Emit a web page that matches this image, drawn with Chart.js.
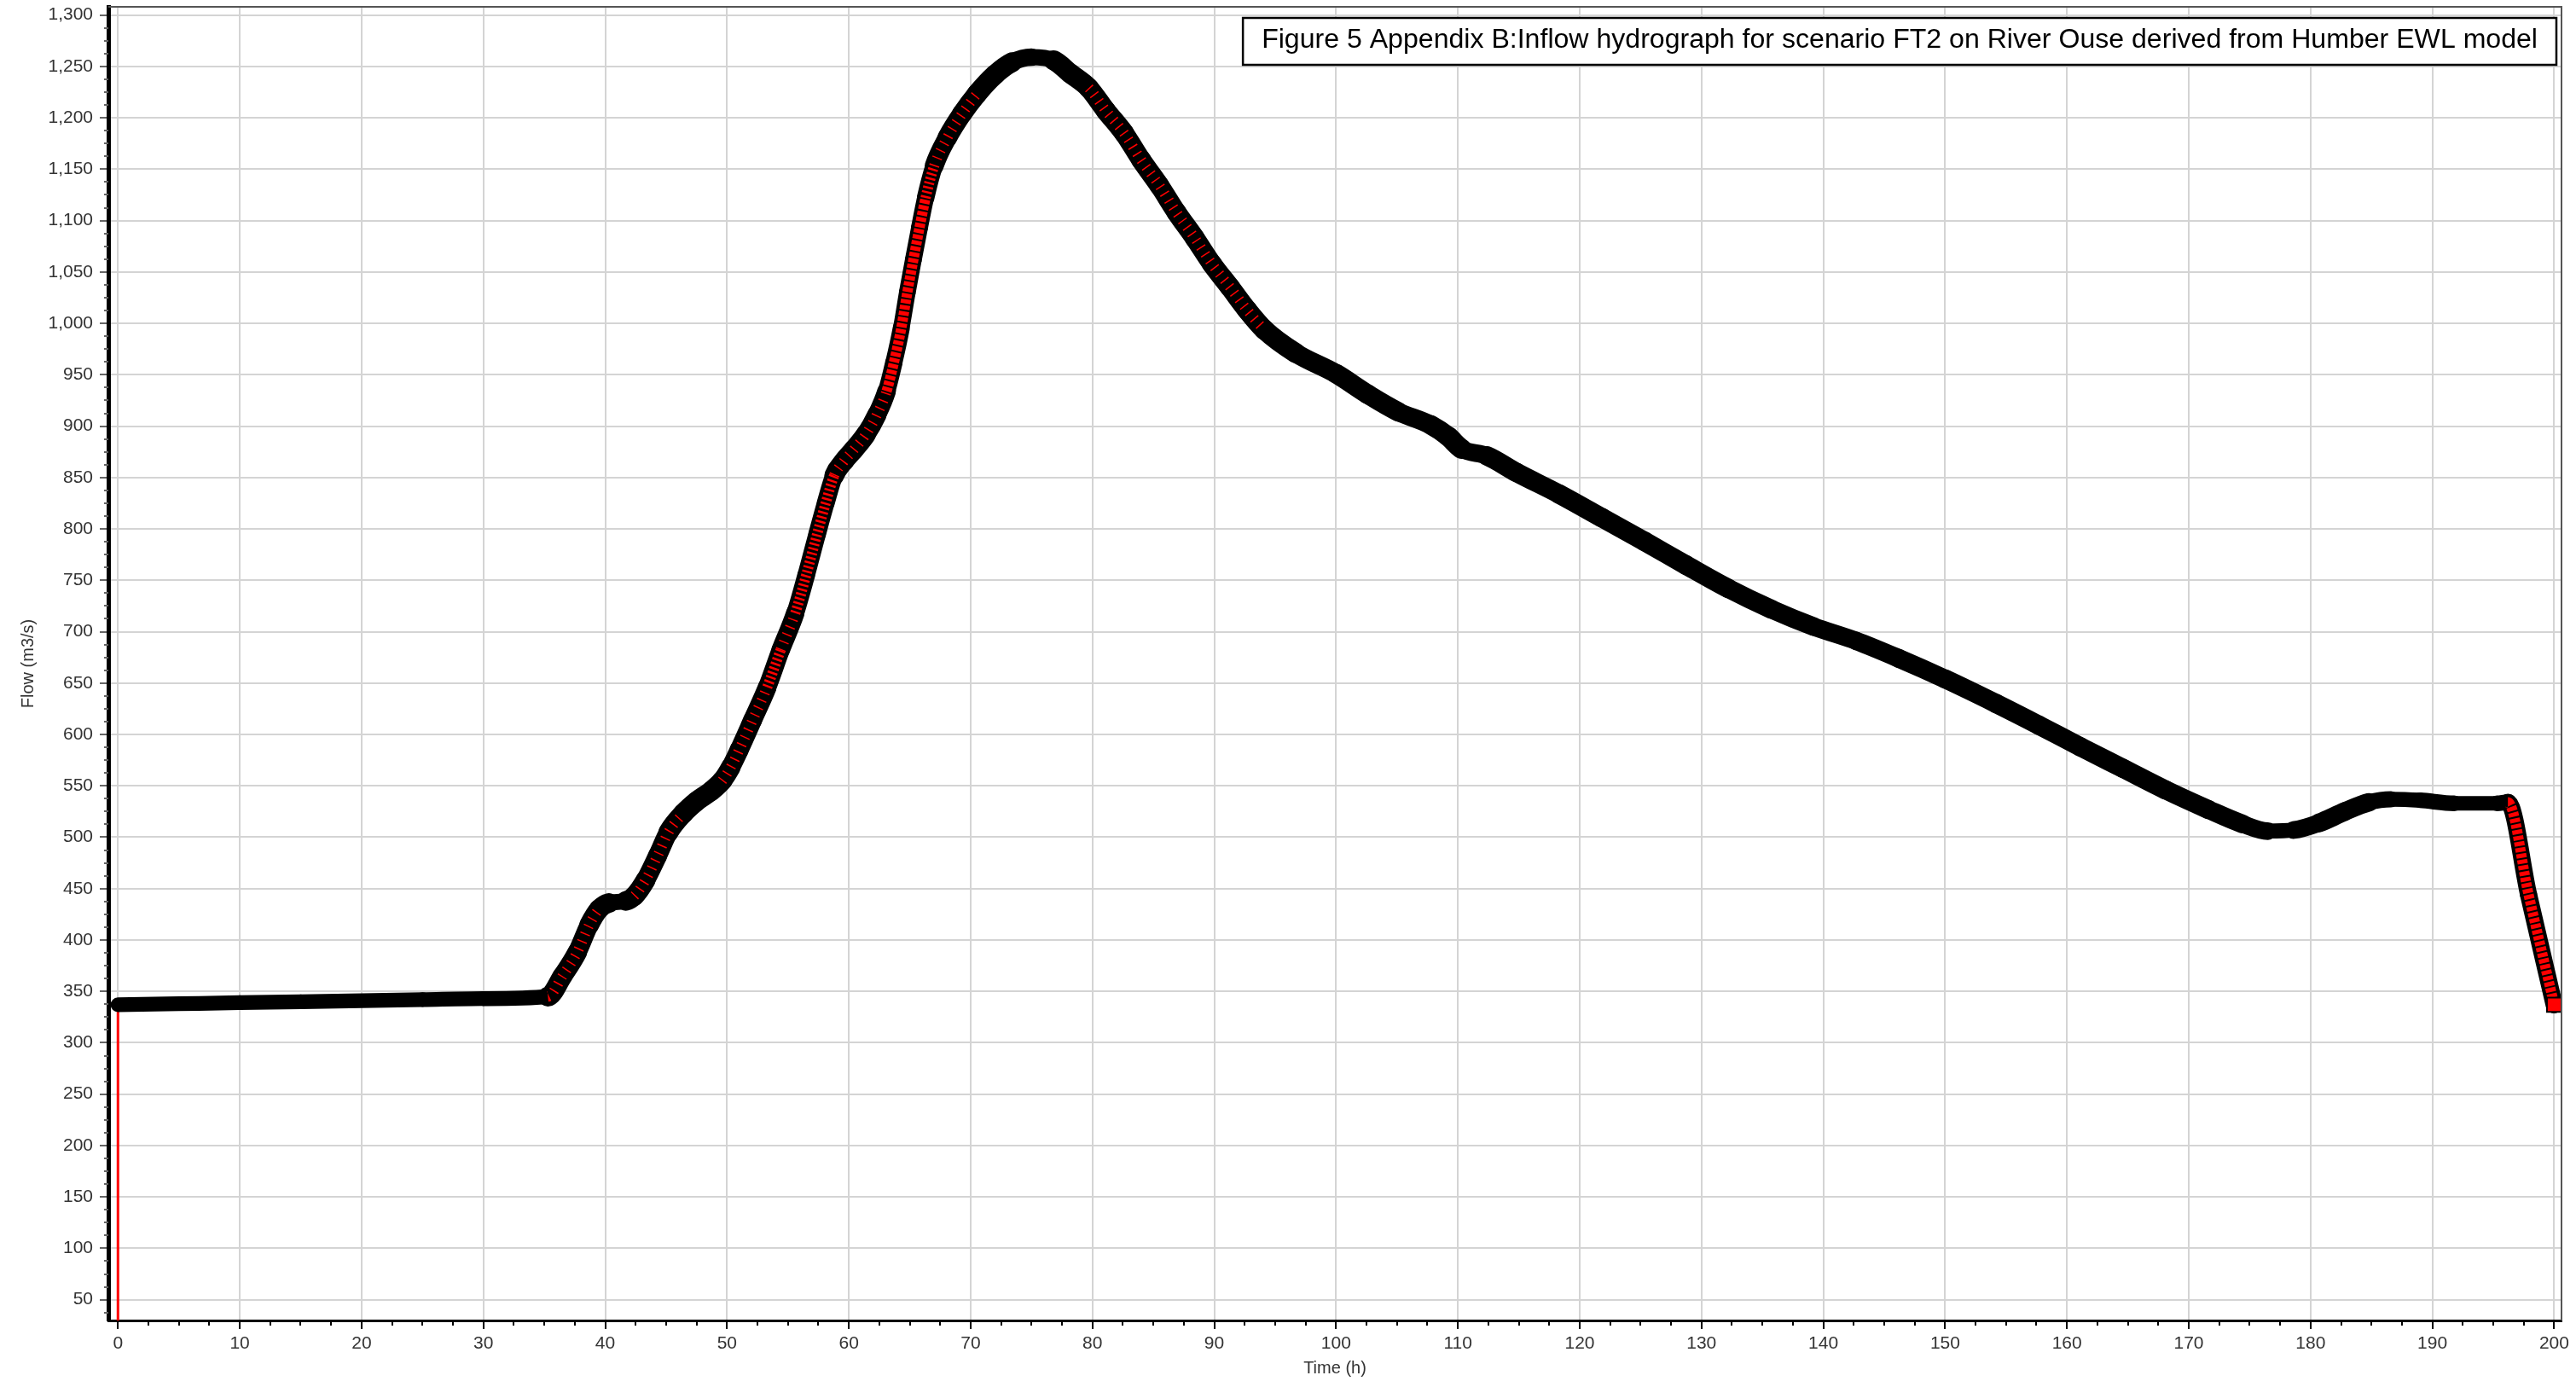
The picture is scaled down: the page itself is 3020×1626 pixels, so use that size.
<!DOCTYPE html>
<html>
<head>
<meta charset="utf-8">
<script src="https://cdn.jsdelivr.net/npm/chart.js@4.4.1/dist/chart.umd.min.js"></script>
<style>
  html, body { margin: 0; padding: 0; background: #ffffff; }
  #wrap { width: 3020px; height: 1626px; position: relative; }
  canvas { display: block; }
</style>
</head>
<body>
<div id="wrap"><canvas id="c"></canvas></div>
<script>
// ---------------- data ----------------
const chartTitle = 'Figure 5 Appendix B:Inflow hydrograph for scenario FT2 on River Ouse derived from Humber EWL model';
const xAxisTitle = 'Time (h)';
const yAxisTitle = 'Flow (m3/s)';

const timeHours = [0, 0, 5, 10, 15, 20, 25, 30,
  35.3, 36.5, 37.7, 38.7, 39.5, 40.3, 41.7, 42.4, 43.3, 44.3,
  45.2, 46.4, 47.5, 48.7, 49.6, 50.3, 51.0, 52.1, 53.3, 54.4,
  55.6, 56.5, 57.4, 58.1, 58.8, 59.6, 60.4, 61.4, 62.3, 63.1,
  63.7, 64.3, 64.8, 65.3, 65.8, 66.3, 67.0, 68.1, 69.3, 70.5,
  72.0, 73.4, 75.0, 76.8, 78.2, 79.7, 81.1, 82.6, 84.0, 85.5,
  86.9, 88.4, 89.8, 91.3, 92.7, 94.1, 96.7, 100.0, 102.6, 105.1,
  107.8, 109.2, 110.3, 112.4, 114.8, 118.3, 121.8, 125.3, 128.7, 132.2,
  135.7, 139.2, 142.7, 146.2, 150.0, 154.2, 157.7, 161.1, 164.6, 168.1,
  171.6, 174.4, 176.5, 178.6, 180.7, 182.8, 184.8, 186.6, 189.0, 191.8,
  195.3, 196.2, 197.9, 200.0];

const flowM3s = [0, 337, 338, 339, 340, 341, 342, 343,
  345, 365, 388, 415, 430, 436, 438, 443, 458, 482,
  505, 523, 535, 545, 555, 568, 585, 614, 646, 682,
  718, 755, 795, 825, 852, 866, 877, 892, 911, 934,
  962, 995, 1030, 1062, 1093, 1122, 1153, 1181, 1204, 1223,
  1242, 1254, 1259, 1256, 1243, 1229, 1207, 1185, 1159, 1134,
  1108, 1083, 1058, 1035, 1013, 994, 971, 951, 931, 914,
  901, 890, 878, 871, 855, 834, 811, 788, 765, 742,
  722, 705, 691, 674, 654, 630, 609, 588, 567, 546,
  527, 513, 506, 507, 514, 525, 534, 537, 536, 533,
  533, 534, 444, 337];

const xTickValues = [0, 10, 20, 30, 40, 50, 60, 70, 80, 90, 100,
  110, 120, 130, 140, 150, 160, 170, 180, 190, 200];
const yTickValues = [50, 100, 150, 200, 250, 300, 350, 400, 450, 500, 550, 600, 650,
  700, 750, 800, 850, 900, 950, 1000, 1050, 1100, 1150, 1200, 1250, 1300];

// ---------------- styling ----------------
const FONT = "'Liberation Sans', Arial, Helvetica, sans-serif";
const X_MINOR = 2.5, Y_MINOR = 12.5;

const allPoints = timeHours.map((t, i) => ({ x: t, y: flowM3s[i] }));
const curvePoints = allPoints.slice(1);
const lastIdx = curvePoints.length - 1;

function pxSlope(ctx) {
  const dx = Math.abs(ctx.p1.x - ctx.p0.x) || 0.001;
  return Math.abs(ctx.p1.y - ctx.p0.y) / dx;
}
function sweepWidth(ctx) {
  const dx = ctx.p1.x - ctx.p0.x, dy = ctx.p1.y - ctx.p0.y;
  const L = Math.hypot(dx, dy) || 1;
  return 16 * (Math.abs(dx) + Math.abs(dy)) / L + 1;
}
function stripeColor(ctx) { return pxSlope(ctx) >= 1.1 ? '#ff0000' : 'rgba(0,0,0,0)'; }
function stripeDash(ctx) {
  const s = pxSlope(ctx);
  if (s >= 3.8) return [5, 2];
  if (s >= 2.7) return [2.5, 3];
  return [1.5, 8];
}

const decorPlugin = {
  id: 'decor',
  afterDraw(chart) {
    const { ctx, chartArea: a, scales: { x, y } } = chart;
    ctx.save();
    // minor ticks
    ctx.lineWidth = 2;
    ctx.strokeStyle = '#000';
    for (let v = X_MINOR; v < x.max; v += X_MINOR) {
      if (Math.abs(v % 10) < 1e-6) continue;
      const px = Math.round(x.getPixelForValue(v));
      ctx.beginPath(); ctx.moveTo(px, a.bottom); ctx.lineTo(px, a.bottom + 6); ctx.stroke();
    }
    ctx.strokeStyle = '#666';
    for (let v = 37.5; v < y.max; v += Y_MINOR) {
      if (Math.abs(v % 50) < 1e-6) continue;
      const py = Math.round(y.getPixelForValue(v));
      ctx.beginPath(); ctx.moveTo(a.left - 5, py); ctx.lineTo(a.left, py); ctx.stroke();
    }
    // top and right frame
    ctx.strokeStyle = '#555';
    ctx.lineWidth = 2;
    ctx.beginPath();
    ctx.moveTo(a.left, a.top); ctx.lineTo(a.right, a.top); ctx.lineTo(a.right, a.bottom);
    ctx.stroke();
    // title box
    ctx.font = '100px ' + FONT;
    const w100 = ctx.measureText(chartTitle).width;
    const size = 100 * 1497 / w100;
    ctx.font = size.toFixed(2) + 'px ' + FONT;
    const tw = ctx.measureText(chartTitle).width;
    const bx1 = a.right - 6, by0 = a.top + 13, bh = 55;
    const bx0 = bx1 - tw - 44;
    ctx.fillStyle = '#fff';
    ctx.fillRect(bx0, by0, bx1 - bx0, bh);
    ctx.strokeStyle = '#000';
    ctx.lineWidth = 2.5;
    ctx.strokeRect(bx0, by0, bx1 - bx0, bh);
    ctx.fillStyle = '#000';
    ctx.textAlign = 'left';
    ctx.textBaseline = 'alphabetic';
    ctx.fillText(chartTitle, bx0 + 22, by0 + 35);
    ctx.restore();
  }
};

new Chart(document.getElementById('c'), {
  type: 'line',
  data: {
    datasets: [
      {
        label: 'stripes',
        data: curvePoints,
        order: 0,
        borderColor: 'rgba(0,0,0,0)',
        borderWidth: 12,
        borderCapStyle: 'butt',
        cubicInterpolationMode: 'monotone',
        pointStyle: 'rect',
        pointRadius: c => (c.dataIndex === lastIdx ? 12 : 0),
        pointBackgroundColor: '#ff0000',
        pointBorderColor: '#000',
        pointBorderWidth: 2,
        segment: { borderColor: stripeColor, borderDash: stripeDash }
      },
      {
        label: 'band',
        data: curvePoints,
        order: 1,
        borderColor: '#000',
        borderWidth: 18,
        borderCapStyle: 'round',
        borderJoinStyle: 'round',
        cubicInterpolationMode: 'monotone',
        segment: { borderWidth: sweepWidth },
        pointRadius: 0
      },
      {
        label: 'line',
        data: allPoints,
        order: 2,
        borderColor: '#ff0000',
        borderWidth: 3,
        tension: 0,
        pointRadius: 0
      }
    ]
  },
  options: {
    responsive: true,
    maintainAspectRatio: false,
    animation: false,
    layout: { autoPadding: false, padding: { left: 0, right: 17, top: 8, bottom: 0 } },
    plugins: { legend: { display: false }, tooltip: { enabled: false } },
    scales: {
      x: {
        type: 'linear',
        min: -0.79,
        max: 200.6,
        afterBuildTicks: s => { s.ticks = xTickValues.map(v => ({ value: v })); },
        afterFit: s => { s.height = 78; s.paddingLeft = 0; s.paddingRight = 0; },
        ticks: {
          autoSkip: false, maxRotation: 0, minRotation: 0, padding: 5,
          color: '#333', font: { family: FONT, size: 21 },
          callback: v => String(v)
        },
        grid: { color: '#d4d4d4', lineWidth: 2, tickLength: 10, tickColor: '#000', tickWidth: 2 },
        border: { color: '#000', width: 3 },
        title: { display: true, text: xAxisTitle, color: '#333', font: { family: FONT, size: 20 }, padding: { top: 0, bottom: 10 } }
      },
      y: {
        type: 'linear',
        min: 29.8,
        max: 1308,
        afterBuildTicks: s => { s.ticks = yTickValues.map(v => ({ value: v })); },
        afterFit: s => { s.width = 127; s.paddingTop = 0; s.paddingBottom = 0; },
        ticks: {
          autoSkip: false, padding: 8,
          color: '#333', font: { family: FONT, size: 21 },
          callback: v => Number(v).toLocaleString('en-US')
        },
        grid: { color: '#d4d4d4', lineWidth: 2, tickLength: 10, tickColor: '#666', tickWidth: 2 },
        border: { color: '#000', width: 5 },
        title: { display: true, text: yAxisTitle, color: '#333', font: { family: FONT, size: 20 }, padding: { top: 21, bottom: 0 } }
      }
    }
  },
  plugins: [decorPlugin]
});
</script>
</body>
</html>
